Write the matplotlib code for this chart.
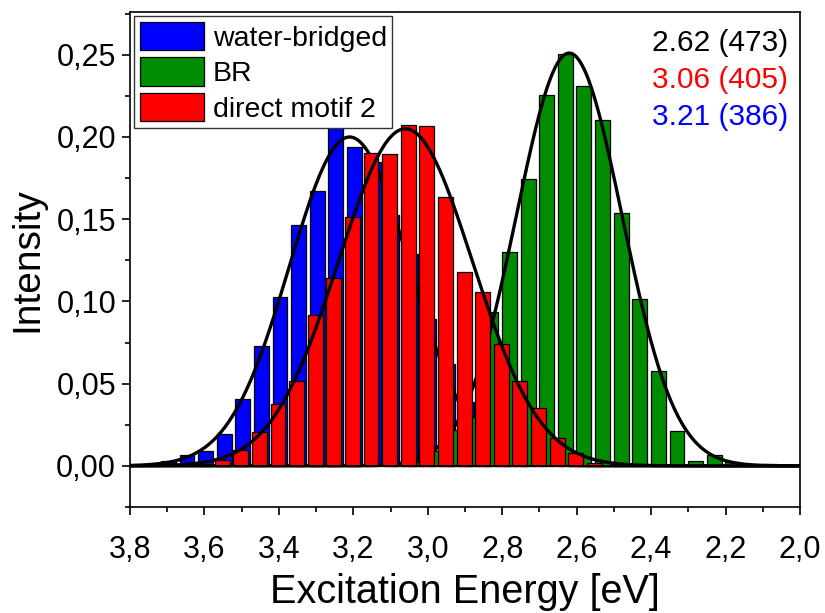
import numpy as np
import matplotlib
matplotlib.use('Agg')
import matplotlib.pyplot as plt
from matplotlib.ticker import MultipleLocator, FuncFormatter

plt.rcParams['font.family'] = ['Liberation Sans', 'DejaVu Sans']

# ---- data ----
series_names = ["water-bridged", "BR", "direct motif 2"]
series_colors = ["#0000FF", "#008C00", "#FF0000"]

blue_energy = [3.697, 3.647, 3.597, 3.547, 3.497, 3.447, 3.397, 3.347, 3.297, 3.247,
               3.197, 3.147, 3.097, 3.047, 2.997, 2.947, 2.897, 2.847, 2.797, 2.747]
blue_intensity = [0.0027, 0.0064, 0.0088, 0.0196, 0.0407, 0.0730, 0.1024, 0.1465, 0.1670, 0.2054,
                  0.1942, 0.1850, 0.1526, 0.1290, 0.0896, 0.0622, 0.0389, 0.0200, 0.0100, 0.0040]

green_energy = [3.0805, 3.0305, 2.9805, 2.9305, 2.8805, 2.8305, 2.7805, 2.7305, 2.6805, 2.6305,
                2.5805, 2.5305, 2.4805, 2.4305, 2.3805, 2.3305, 2.2805, 2.2305, 2.1805, 2.1305, 2.0805]
green_intensity = [0.0023, 0.0023, 0.0090, 0.0216, 0.0297, 0.0935, 0.1302, 0.1747, 0.2255, 0.2506,
                   0.2307, 0.2104, 0.1538, 0.1016, 0.0574, 0.0210, 0.0027, 0.0068, 0.0021, 0.0004, 0.0011]

red_energy = [3.6025, 3.5525, 3.5025, 3.4525, 3.4025, 3.3525, 3.3025, 3.2525, 3.2025, 3.1525, 3.1025,
              3.0525, 3.0025, 2.9525, 2.9025, 2.8525, 2.8025, 2.7525, 2.7025, 2.6525, 2.6025, 2.5525]
red_intensity = [0.0010, 0.0038, 0.0094, 0.0206, 0.0375, 0.0515, 0.0915, 0.1140, 0.1515, 0.1905, 0.1897,
                 0.2074, 0.2068, 0.1633, 0.1177, 0.1055, 0.0740, 0.0517, 0.0352, 0.0172, 0.0080, 0.0015]

# Gaussian fit parameters (blue, green, red)
fit_center = [3.21, 2.62, 3.06]
fit_amplitude = [0.200, 0.251, 0.205]
fit_sigma = [0.162, 0.142, 0.180]

fit_labels = ["2.62 (473)", "3.06 (405)", "3.21 (386)"]
fit_label_colors = ["black", "#FF0000", "#0000FF"]

x_ticks = [3.8, 3.6, 3.4, 3.2, 3.0, 2.8, 2.6, 2.4, 2.2, 2.0]
y_ticks = [0.00, 0.05, 0.10, 0.15, 0.20, 0.25]

# ---- figure ----
W, H = 825, 613
fig = plt.figure(figsize=(W / 100, H / 100), dpi=100)
ax = fig.add_axes([130 / W, 1 - 507 / H, 670 / W, 495 / H])

energies = [blue_energy, green_energy, red_energy]
intens = [blue_intensity, green_intensity, red_intensity]
xs = np.linspace(3.8, 2.0, 600)
handles = []
z = 2
for name, col, e, v, c, a, s in zip(series_names, series_colors, energies, intens,
                                     fit_center, fit_amplitude, fit_sigma):
    b = ax.bar(e, v, width=0.04, color=col, edgecolor='black', linewidth=0.9,
               label=name, zorder=z)
    handles.append(b)
    ax.plot(xs, a * np.exp(-(xs - c) ** 2 / (2 * s ** 2)), color='black', lw=2.4,
            zorder=z + 1, solid_capstyle='round')
    z += 2

ax.axhline(0, color='black', lw=1.3, zorder=20)

ax.set_xlim(3.8, 2.0)
ax.set_ylim(-0.025, 0.276)

fmt = FuncFormatter(lambda v, p: f"{v:.1f}".replace('.', ','))
fmty = FuncFormatter(lambda v, p: f"{v:.2f}".replace('.', ','))
ax.set_xticks(x_ticks)
ax.set_yticks(y_ticks)
ax.xaxis.set_major_formatter(fmt)
ax.yaxis.set_major_formatter(fmty)
ax.xaxis.set_minor_locator(MultipleLocator(0.1))
ax.yaxis.set_minor_locator(MultipleLocator(0.025))
ax.tick_params(which='both', direction='out', width=1.2, top=False, right=False,
               labelsize=22)
ax.tick_params(axis='y', which='major', pad=4)
ax.tick_params(axis='x', which='major', pad=14)
ax.tick_params(which='major', length=6)
ax.tick_params(which='minor', length=3.5)
for sp in ax.spines.values():
    sp.set_linewidth(1.2)

ax.set_xlabel("Excitation Energy [eV]", fontsize=28.5, labelpad=6)
ax.set_ylabel("Intensity", fontsize=28, labelpad=8)

leg = ax.legend(handles=handles, loc='upper left', fontsize=20.5, frameon=True,
                fancybox=False, framealpha=1, edgecolor='#333333',
                handlelength=2.24, handleheight=1.15, labelspacing=0.2,
                handletextpad=0.31, borderpad=0.2, borderaxespad=0.15)
leg.get_frame().set_linewidth(1.0)
leg.set_zorder(30)

ys = [0.937, 0.8626, 0.788]
for t, c, yy in zip(fit_labels, fit_label_colors, ys):
    ax.text(0.982, yy, t, color=c, fontsize=21.5, ha='right', va='center',
            transform=ax.transAxes, zorder=30)

fig.savefig("out.png", dpi=100)
